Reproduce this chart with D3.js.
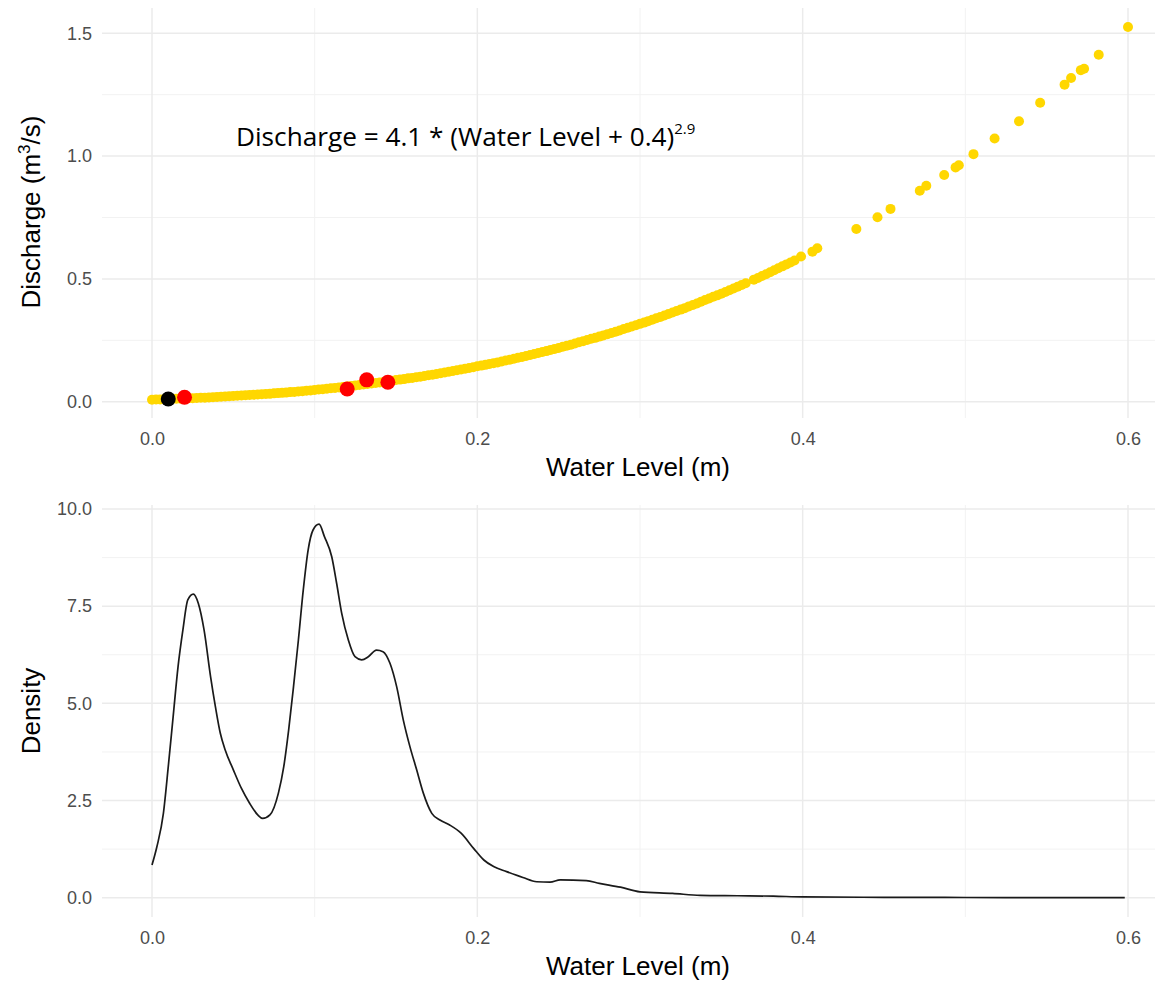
<!DOCTYPE html>
<html>
<head>
<meta charset="utf-8">
<script src="https://cdn.jsdelivr.net/npm/d3@7"></script>
<style>
  html, body { margin: 0; padding: 0; background: #fff; }
  svg { display: block; }
</style>
</head>
<body>
<svg id="chart" width="1155" height="982"></svg>
<script>
// Rating curve observations: water level (m) and discharge (m3/s)
const ratingLevel = [
  0.000,0.005,0.010,0.015,0.020,0.025,0.030,0.035,0.040,0.045,
  0.050,0.055,0.060,0.065,0.070,0.075,0.080,0.085,0.090,0.095,
  0.100,0.105,0.110,0.115,0.120,0.125,0.130,0.135,0.140,0.145,
  0.150,0.155,0.160,0.165,0.170,0.175,0.180,0.185,0.190,0.195,
  0.200,0.205,0.210,0.215,0.220,0.225,0.230,0.235,0.240,0.245,
  0.250,0.255,0.260,0.265,0.270,0.275,0.280,0.285,0.290,0.295,
  0.300,0.305,0.310,0.315,0.320,0.325,0.330,0.335,0.340,0.345,
  0.350,0.355,0.360,0.365,0.370,0.375,0.380,0.385,0.390,0.395,
  0.399,0.406,0.409,0.433,0.446,0.454,0.472,0.476,0.487,0.494,
  0.496,0.505,0.518,0.533,0.546,0.561,0.565,0.571,0.573,0.582,0.600,
  0.0025,0.0075,0.0125,0.0175,0.0225,0.0275,0.0325,0.0375,0.0425,0.0475,
  0.0525,0.0575,0.0625,0.0675,0.0725,0.0775,0.0825,0.0875,0.0925,0.0975,
  0.1025,0.1075,0.1125,0.1175,0.1225,0.1275,0.1325,0.1375,0.1425,0.1475,
  0.1525,0.1575,0.1625,0.1675,0.1725,0.1775,0.1825,0.1875,0.1925,0.1975,
  0.2025,0.2075,0.2125,0.2175,0.2225,0.2275,0.2325,0.2375,0.2425,0.2475,
  0.2525,0.2575,0.2625,0.2675,0.2725,0.2775,0.2825,0.2875,0.2925,0.2975,
  0.3025,0.3075,0.3125,0.3175,0.3225,0.3275,0.3325,0.3375,0.3425,0.3475,
  0.3525,0.3575,0.3625,0.3725,0.3775,0.3825,0.3875,0.3925
];
const ratingDischarge = [
  0.008,0.009,0.010,0.012,0.013,0.014,0.016,0.017,0.019,0.021,
  0.023,0.025,0.027,0.029,0.031,0.034,0.036,0.039,0.042,0.045,
  0.048,0.051,0.055,0.058,0.062,0.066,0.070,0.074,0.078,0.083,
  0.088,0.092,0.097,0.102,0.108,0.113,0.119,0.125,0.131,0.137,
  0.144,0.150,0.157,0.164,0.171,0.179,0.186,0.194,0.202,0.211,
  0.219,0.228,0.237,0.246,0.256,0.265,0.275,0.285,0.296,0.306,
  0.317,0.328,0.340,0.351,0.363,0.375,0.388,0.400,0.414,0.427,
  0.440,0.454,0.468,0.482,0.497,0.512,0.527,0.543,0.559,0.575,
  0.591,0.611,0.625,0.703,0.751,0.785,0.859,0.879,0.923,0.954,
  0.963,1.008,1.072,1.142,1.217,1.291,1.318,1.350,1.356,1.413,1.526,
  0.009,0.010,0.011,0.012,0.014,0.015,0.016,0.018,0.020,0.022,
  0.024,0.026,0.028,0.030,0.032,0.035,0.037,0.040,0.043,0.046,
  0.050,0.053,0.056,0.060,0.064,0.068,0.072,0.076,0.080,0.085,
  0.090,0.095,0.100,0.105,0.110,0.116,0.122,0.128,0.134,0.140,
  0.147,0.154,0.160,0.168,0.175,0.182,0.190,0.198,0.206,0.215,
  0.224,0.232,0.242,0.251,0.260,0.270,0.280,0.290,0.301,0.311,
  0.322,0.334,0.345,0.357,0.369,0.381,0.394,0.407,0.420,0.433,
  0.447,0.461,0.475,0.504,0.519,0.535,0.551,0.567
];

// Gauged measurements
const gaugedLevel     = [0.020, 0.120, 0.132, 0.145];
const gaugedDischarge = [0.018, 0.052, 0.089, 0.079];
const refLevel        = [0.010];
const refDischarge    = [0.011];

// Kernel density of water level
const densityLevel = [
  0.000,0.003,0.007,0.010,0.013,0.016,0.019,0.022,0.0254,0.0285,
  0.032,0.036,0.039,0.042,0.045,0.050,0.055,0.060,0.065,0.068,
  0.0725,0.0777,0.081,0.084,0.087,0.090,0.093,0.096,0.099,0.1027,
  0.106,0.1105,0.1135,0.1166,0.1207,0.1248,0.1289,0.133,0.138,0.142,
  0.1463,0.1504,0.1545,0.1586,0.1627,0.1668,0.172,0.177,0.183,0.190,
  0.1977,0.204,0.210,0.218,0.228,0.2365,0.2447,0.251,0.267,0.275,
  0.288,0.300,0.320,0.337,0.360,0.382,0.400,0.450,0.500,0.550,0.598
];
const densityValue = [
  0.84,1.31,2.17,3.37,4.66,5.94,6.89,7.66,7.81,7.57,
  6.89,5.69,4.91,4.23,3.80,3.29,2.81,2.43,2.13,2.04,
  2.13,2.69,3.37,4.31,5.43,6.63,7.92,8.95,9.46,9.61,
  9.29,8.77,8.09,7.32,6.63,6.20,6.12,6.20,6.37,6.33,
  6.03,5.43,4.57,3.88,3.29,2.69,2.17,2.00,1.87,1.66,
  1.27,0.97,0.80,0.67,0.52,0.41,0.40,0.46,0.44,0.37,
  0.27,0.15,0.11,0.06,0.05,0.04,0.02,0.01,0.005,0.003,0.002
];

// Axis ticks
const levelTicks = [0.0, 0.2, 0.4, 0.6];
const levelMinor = [0.1, 0.3, 0.5];
const dischargeTicks = [0.0, 0.5, 1.0, 1.5];
const dischargeMinor = [0.25, 0.75, 1.25];
const densityTicks = [0.0, 2.5, 5.0, 7.5, 10.0];
const densityMinor = [1.25, 3.75, 6.25, 8.75];

const svg = d3.select("#chart");
svg.append("rect").attr("width", 1155).attr("height", 982).attr("fill", "#fff");

const FONT = "'Liberation Sans', Arial, sans-serif";
const panelLeft = 102, panelRight = 1155;

const xLevel = d3.scaleLinear().domain([0, 0.6]).range([152, 1128]);

function drawPanel(cfg) {
  const g = svg.append("g");
  const y = cfg.y;
  // minor grid
  g.selectAll(".hmin").data(cfg.minorY).join("line")
    .attr("x1", panelLeft).attr("x2", panelRight)
    .attr("y1", d => y(d)).attr("y2", d => y(d))
    .attr("stroke", "#F2F2F2").attr("stroke-width", 1);
  g.selectAll(".vmin").data(levelMinor).join("line")
    .attr("x1", d => xLevel(d)).attr("x2", d => xLevel(d))
    .attr("y1", cfg.top).attr("y2", cfg.bottom)
    .attr("stroke", "#F2F2F2").attr("stroke-width", 1);
  // major grid
  g.selectAll(".hmaj").data(cfg.ticksY).join("line")
    .attr("x1", panelLeft).attr("x2", panelRight)
    .attr("y1", d => y(d)).attr("y2", d => y(d))
    .attr("stroke", "#EBEBEB").attr("stroke-width", 1.5);
  g.selectAll(".vmaj").data(levelTicks).join("line")
    .attr("x1", d => xLevel(d)).attr("x2", d => xLevel(d))
    .attr("y1", cfg.top).attr("y2", cfg.bottom)
    .attr("stroke", "#EBEBEB").attr("stroke-width", 1.5);

  // axes (labels only)
  const yAxis = d3.axisLeft(y).tickValues(cfg.ticksY).tickSize(0).tickPadding(10)
    .tickFormat(d3.format(".1f"));
  const ya = g.append("g").attr("transform", `translate(${panelLeft},0)`).call(yAxis);
  const xAxis = d3.axisBottom(xLevel).tickValues(levelTicks).tickSize(0).tickPadding(14)
    .tickFormat(d3.format(".1f"));
  const xa = g.append("g").attr("transform", `translate(0,${cfg.bottom})`).call(xAxis);
  [ya, xa].forEach(a => {
    a.select(".domain").remove();
    a.selectAll("text").attr("font-family", FONT).attr("font-size", 18).attr("fill", "#4D4D4D");
  });

  // x title
  g.append("text").attr("x", 638).attr("y", cfg.bottom + 58)
    .attr("text-anchor", "middle").attr("font-family", FONT).attr("font-size", 26)
    .attr("fill", "#000").text("Water Level (m)");
  return g;
}

// ---- Upper panel: rating curve ----
const yQ = d3.scaleLinear().domain([0, 1.5]).range([401.7, 33.3]);
const upperPanel = drawPanel({ y: yQ, top: 8, bottom: 418, ticksY: dischargeTicks, minorY: dischargeMinor });

const yTitle = upperPanel.append("text")
  .attr("transform", "translate(40,212) rotate(-90)")
  .attr("text-anchor", "middle").attr("font-family", FONT).attr("font-size", 26).attr("fill", "#000");
yTitle.append("tspan").text("Discharge (m");
yTitle.append("tspan").attr("font-size", 17).attr("dy", -10).text("3");
yTitle.append("tspan").attr("dy", 10).text("/s)");

const rating = ratingLevel.map((h, i) => ({ h, q: ratingDischarge[i] }));
upperPanel.append("g").selectAll("circle").data(rating).join("circle")
  .attr("cx", d => xLevel(d.h)).attr("cy", d => yQ(d.q)).attr("r", 5)
  .attr("fill", "#FFD700");

upperPanel.append("g").selectAll("circle").data(refLevel.map((h, i) => ({ h, q: refDischarge[i] }))).join("circle")
  .attr("cx", d => xLevel(d.h)).attr("cy", d => yQ(d.q)).attr("r", 7.5).attr("fill", "#000");
upperPanel.append("g").selectAll("circle").data(gaugedLevel.map((h, i) => ({ h, q: gaugedDischarge[i] }))).join("circle")
  .attr("cx", d => xLevel(d.h)).attr("cy", d => yQ(d.q)).attr("r", 7.5).attr("fill", "#FF0000");

const eq = upperPanel.append("text").attr("x", 236).attr("y", 146)
  .attr("font-family", "'Open Sans', 'Noto Sans', sans-serif").attr("font-size", 26.2).attr("fill", "#000");
eq.append("tspan").text("Discharge = 4.1 * (Water Level + 0.4)");
eq.append("tspan").attr("font-size", 15).attr("dy", -12).text("2.9");

// ---- Lower panel: density ----
const yD = d3.scaleLinear().domain([0, 10]).range([897.7, 509]);
const lowerPanel = drawPanel({ y: yD, top: 505, bottom: 917, ticksY: densityTicks, minorY: densityMinor });

lowerPanel.append("text")
  .attr("transform", "translate(40,711) rotate(-90)")
  .attr("text-anchor", "middle").attr("font-family", FONT).attr("font-size", 26).attr("fill", "#000")
  .text("Density");

const dens = densityLevel.map((h, i) => ({ h, d: densityValue[i] }));
lowerPanel.append("path").datum(dens)
  .attr("d", d3.line().x(d => xLevel(d.h)).y(d => yD(d.d)).curve(d3.curveMonotoneX))
  .attr("fill", "none").attr("stroke", "#1a1a1a").attr("stroke-width", 1.7);
</script>
</body>
</html>
